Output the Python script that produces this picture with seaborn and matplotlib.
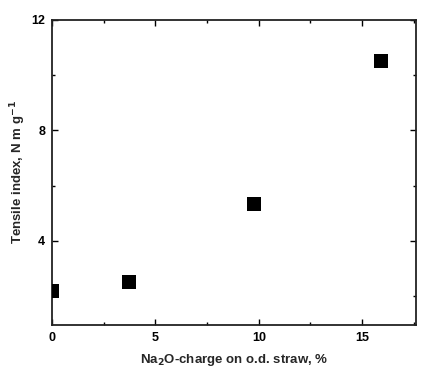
import matplotlib
matplotlib.use("Agg")
import matplotlib.pyplot as plt
import seaborn as sns
import pandas as pd
from matplotlib.ticker import MultipleLocator

na2o_charge = [0.0, 3.7, 9.75, 15.9]
tensile_index = [2.2, 2.5, 5.35, 10.5]

sns.set_theme(style="ticks")
plt.rcParams['font.family'] = ['Liberation Sans', 'DejaVu Sans']
plt.rcParams['mathtext.default'] = 'bf'

df = pd.DataFrame({"x": na2o_charge, "y": tensile_index})

fig = plt.figure(figsize=(4.27, 3.69), dpi=100)
ax = fig.add_axes([0.122, 0.119, 0.852, 0.827])
sns.scatterplot(data=df, x="x", y="y", marker="s", s=90, color="black",
                edgecolor="black", linewidth=0, ax=ax, zorder=5)

ax.set_xlim(0, 17.6)
ax.set_ylim(0.95, 12)
ax.xaxis.set_major_locator(MultipleLocator(5))
ax.xaxis.set_minor_locator(MultipleLocator(2.5))
ax.yaxis.set_major_locator(MultipleLocator(4))
ax.yaxis.set_minor_locator(MultipleLocator(2))
ax.tick_params(which="both", direction="in", top=True, right=True,
               labelsize=9, width=1, colors="black")
ax.tick_params(which="major", length=4, pad=5)
ax.tick_params(which="minor", length=2.5)
for lab in ax.get_xticklabels() + ax.get_yticklabels():
    lab.set_fontweight("bold")
for sp in ax.spines.values():
    sp.set_visible(True)
    sp.set_linewidth(1.3)
    sp.set_color("#222222")

ax.set_xlabel("Na$_{2}$O-charge on o.d. straw, %", fontsize=9.5,
              fontweight="bold", labelpad=6)
ax.set_ylabel("Tensile index, N m g$^{-1}$", fontsize=9.5,
              fontweight="bold", labelpad=2)

fig.savefig("out.png", dpi=100)
